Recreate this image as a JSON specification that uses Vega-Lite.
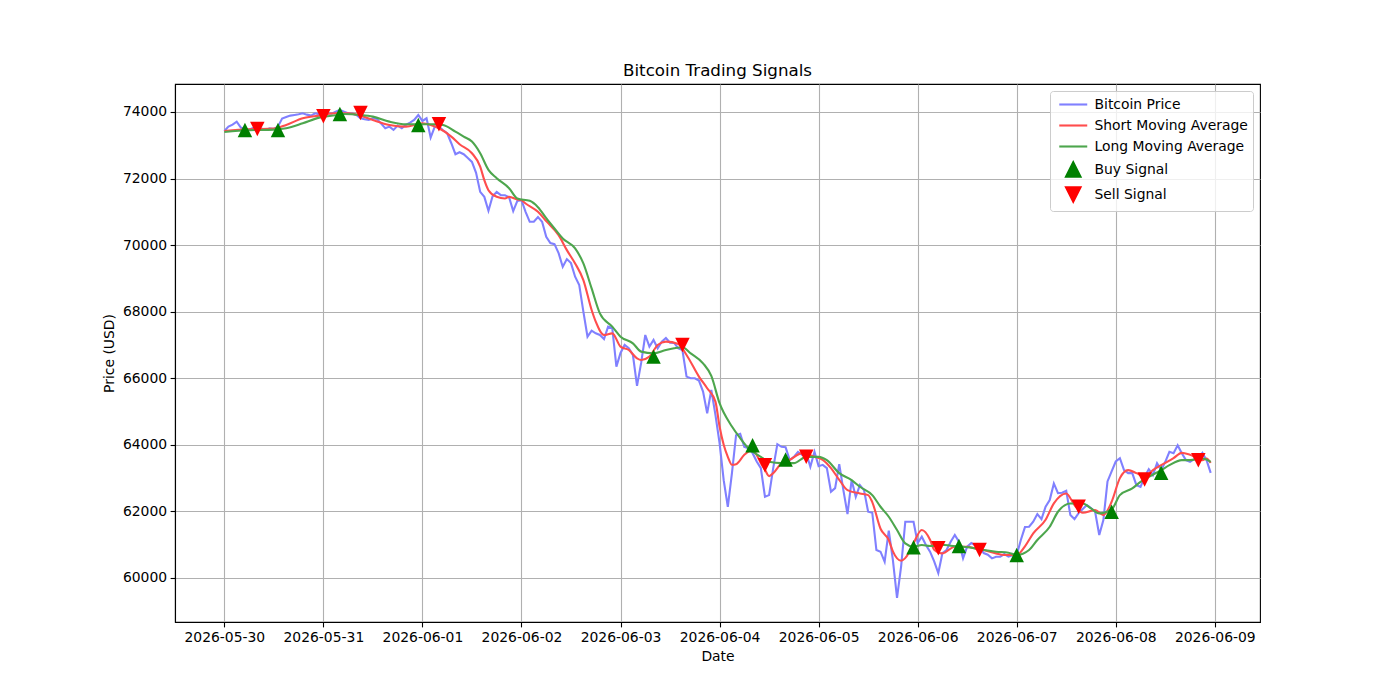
{
  "$schema": "https://vega.github.io/schema/vega-lite/v6.json",
  "width": 1085,
  "height": 538,
  "autosize": {"type": "none"},
  "padding": {"left": 175, "top": 84, "right": 140, "bottom": 78},
  "background": "white",
  "title": {"text": "Bitcoin Trading Signals", "fontSize": 16.7, "fontWeight": "normal", "font": "DejaVu Sans", "color": "black", "offset": 4},
  "config": {
    "font": "DejaVu Sans",
    "view": {"stroke": "black", "strokeWidth": 1.1},
    "axis": {
      "labelFont": "DejaVu Sans", "titleFont": "DejaVu Sans",
      "labelFontSize": 13.9, "titleFontSize": 13.9, "titleFontWeight": "normal",
      "labelColor": "black", "titleColor": "black",
      "domainColor": "black", "domainWidth": 1.1,
      "tickColor": "black", "tickWidth": 1.1, "tickSize": 4.9,
      "labelPadding": 3.5, "grid": true, "gridColor": "#b0b0b0", "gridWidth": 1.1
    },
    "legend": {
      "orient": "top-right", "offset": 7,
      "labelFont": "DejaVu Sans", "labelFontSize": 13.9, "labelColor": "black",
      "symbolSize": 210, "symbolOffset": 9.75, "symbolStrokeWidth": 2.1, "symbolOpacity": 1,
      "padding": 5, "rowPadding": 2, "labelOffset": 12.75,
      "strokeColor": "#cccccc", "fillColor": "rgba(255,255,255,0.8)", "cornerRadius": 3
    }
  },
  "datasets": {
    "price": [
      {"t":"2026-05-30T00:00","p":73430},{"t":"2026-05-30T01:00","p":73560},{"t":"2026-05-30T02:00","p":73620},{"t":"2026-05-30T03:00","p":73710},{"t":"2026-05-30T04:00","p":73530},{"t":"2026-05-30T05:00","p":73490},{"t":"2026-05-30T06:00","p":73470},{"t":"2026-05-30T07:00","p":73520},{"t":"2026-05-30T08:00","p":73480},{"t":"2026-05-30T09:00","p":73500},{"t":"2026-05-30T10:00","p":73460},{"t":"2026-05-30T11:00","p":73510},{"t":"2026-05-30T12:00","p":73490},{"t":"2026-05-30T13:00","p":73560},{"t":"2026-05-30T14:00","p":73800},{"t":"2026-05-30T15:00","p":73850},{"t":"2026-05-30T16:00","p":73890},{"t":"2026-05-30T17:00","p":73910},{"t":"2026-05-30T18:00","p":73930},{"t":"2026-05-30T19:00","p":73960},{"t":"2026-05-30T20:00","p":73920},{"t":"2026-05-30T21:00","p":73890},{"t":"2026-05-30T22:00","p":73960},{"t":"2026-05-30T23:00","p":73930},
      {"t":"2026-05-31T00:00","p":73900},{"t":"2026-05-31T01:00","p":73960},{"t":"2026-05-31T02:00","p":73950},{"t":"2026-05-31T03:00","p":74010},{"t":"2026-05-31T04:00","p":74060},{"t":"2026-05-31T05:00","p":74010},{"t":"2026-05-31T06:00","p":73960},{"t":"2026-05-31T07:00","p":73950},{"t":"2026-05-31T08:00","p":73910},{"t":"2026-05-31T09:00","p":73810},{"t":"2026-05-31T10:00","p":73780},{"t":"2026-05-31T11:00","p":73760},{"t":"2026-05-31T12:00","p":73810},{"t":"2026-05-31T13:00","p":73790},{"t":"2026-05-31T14:00","p":73650},{"t":"2026-05-31T15:00","p":73510},{"t":"2026-05-31T16:00","p":73560},{"t":"2026-05-31T17:00","p":73460},{"t":"2026-05-31T18:00","p":73590},{"t":"2026-05-31T19:00","p":73510},{"t":"2026-05-31T20:00","p":73610},{"t":"2026-05-31T21:00","p":73680},{"t":"2026-05-31T22:00","p":73760},{"t":"2026-05-31T23:00","p":73910},
      {"t":"2026-06-01T00:00","p":73730},{"t":"2026-06-01T01:00","p":73810},{"t":"2026-06-01T02:00","p":73230},{"t":"2026-06-01T03:00","p":73560},{"t":"2026-06-01T04:00","p":73560},{"t":"2026-06-01T05:00","p":73450},{"t":"2026-06-01T06:00","p":73360},{"t":"2026-06-01T07:00","p":73060},{"t":"2026-06-01T08:00","p":72730},{"t":"2026-06-01T09:00","p":72790},{"t":"2026-06-01T10:00","p":72730},{"t":"2026-06-01T11:00","p":72620},{"t":"2026-06-01T12:00","p":72500},{"t":"2026-06-01T13:00","p":72170},{"t":"2026-06-01T14:00","p":71600},{"t":"2026-06-01T15:00","p":71450},{"t":"2026-06-01T16:00","p":71030},{"t":"2026-06-01T17:00","p":71470},{"t":"2026-06-01T18:00","p":71600},{"t":"2026-06-01T19:00","p":71500},{"t":"2026-06-01T20:00","p":71500},{"t":"2026-06-01T21:00","p":71440},{"t":"2026-06-01T22:00","p":71020},{"t":"2026-06-01T23:00","p":71330},
      {"t":"2026-06-02T00:00","p":71350},{"t":"2026-06-02T01:00","p":71000},{"t":"2026-06-02T02:00","p":70700},{"t":"2026-06-02T03:00","p":70700},{"t":"2026-06-02T04:00","p":70840},{"t":"2026-06-02T05:00","p":70700},{"t":"2026-06-02T06:00","p":70250},{"t":"2026-06-02T07:00","p":70060},{"t":"2026-06-02T08:00","p":70030},{"t":"2026-06-02T09:00","p":69760},{"t":"2026-06-02T10:00","p":69350},{"t":"2026-06-02T11:00","p":69580},{"t":"2026-06-02T12:00","p":69460},{"t":"2026-06-02T13:00","p":69050},{"t":"2026-06-02T14:00","p":68800},{"t":"2026-06-02T15:00","p":68000},{"t":"2026-06-02T16:00","p":67250},{"t":"2026-06-02T17:00","p":67430},{"t":"2026-06-02T18:00","p":67350},{"t":"2026-06-02T19:00","p":67300},{"t":"2026-06-02T20:00","p":67180},{"t":"2026-06-02T21:00","p":67550},{"t":"2026-06-02T22:00","p":67510},{"t":"2026-06-02T23:00","p":66350},
      {"t":"2026-06-03T00:00","p":66760},{"t":"2026-06-03T01:00","p":67000},{"t":"2026-06-03T02:00","p":66900},{"t":"2026-06-03T03:00","p":66700},{"t":"2026-06-03T04:00","p":65770},{"t":"2026-06-03T05:00","p":66460},{"t":"2026-06-03T06:00","p":67300},{"t":"2026-06-03T07:00","p":66950},{"t":"2026-06-03T08:00","p":67150},{"t":"2026-06-03T09:00","p":66900},{"t":"2026-06-03T10:00","p":67100},{"t":"2026-06-03T11:00","p":67210},{"t":"2026-06-03T12:00","p":67070},{"t":"2026-06-03T13:00","p":67060},{"t":"2026-06-03T14:00","p":66900},{"t":"2026-06-03T15:00","p":66850},{"t":"2026-06-03T16:00","p":66050},{"t":"2026-06-03T17:00","p":66000},{"t":"2026-06-03T18:00","p":66000},{"t":"2026-06-03T19:00","p":65930},{"t":"2026-06-03T20:00","p":65600},{"t":"2026-06-03T21:00","p":64950},{"t":"2026-06-03T22:00","p":65650},{"t":"2026-06-03T23:00","p":64900},
      {"t":"2026-06-04T00:00","p":64050},{"t":"2026-06-04T01:00","p":62940},{"t":"2026-06-04T02:00","p":62140},{"t":"2026-06-04T03:00","p":63150},{"t":"2026-06-04T04:00","p":64290},{"t":"2026-06-04T05:00","p":64330},{"t":"2026-06-04T06:00","p":63940},{"t":"2026-06-04T07:00","p":63900},{"t":"2026-06-04T08:00","p":63750},{"t":"2026-06-04T09:00","p":63500},{"t":"2026-06-04T10:00","p":63300},{"t":"2026-06-04T11:00","p":62440},{"t":"2026-06-04T12:00","p":62490},{"t":"2026-06-04T13:00","p":63300},{"t":"2026-06-04T14:00","p":64020},{"t":"2026-06-04T15:00","p":63940},{"t":"2026-06-04T16:00","p":63930},{"t":"2026-06-04T17:00","p":63540},{"t":"2026-06-04T18:00","p":63640},{"t":"2026-06-04T19:00","p":63790},{"t":"2026-06-04T20:00","p":63700},{"t":"2026-06-04T21:00","p":63750},{"t":"2026-06-04T22:00","p":63340},{"t":"2026-06-04T23:00","p":63790},
      {"t":"2026-06-05T00:00","p":63360},{"t":"2026-06-05T01:00","p":63400},{"t":"2026-06-05T02:00","p":63300},{"t":"2026-06-05T03:00","p":62590},{"t":"2026-06-05T04:00","p":62700},{"t":"2026-06-05T05:00","p":63420},{"t":"2026-06-05T06:00","p":62640},{"t":"2026-06-05T07:00","p":61920},{"t":"2026-06-05T08:00","p":62940},{"t":"2026-06-05T09:00","p":62440},{"t":"2026-06-05T10:00","p":62790},{"t":"2026-06-05T11:00","p":62640},{"t":"2026-06-05T12:00","p":61990},{"t":"2026-06-05T13:00","p":61960},{"t":"2026-06-05T14:00","p":60840},{"t":"2026-06-05T15:00","p":60790},{"t":"2026-06-05T16:00","p":60490},{"t":"2026-06-05T17:00","p":61420},{"t":"2026-06-05T18:00","p":60540},{"t":"2026-06-05T19:00","p":59400},{"t":"2026-06-05T20:00","p":60360},{"t":"2026-06-05T21:00","p":61690},{"t":"2026-06-05T22:00","p":61690},{"t":"2026-06-05T23:00","p":61690},
      {"t":"2026-06-06T00:00","p":61050},{"t":"2026-06-06T01:00","p":61240},{"t":"2026-06-06T02:00","p":60990},{"t":"2026-06-06T03:00","p":60790},{"t":"2026-06-06T04:00","p":60500},{"t":"2026-06-06T05:00","p":60150},{"t":"2026-06-06T06:00","p":60750},{"t":"2026-06-06T07:00","p":60840},{"t":"2026-06-06T08:00","p":61090},{"t":"2026-06-06T09:00","p":61290},{"t":"2026-06-06T10:00","p":61090},{"t":"2026-06-06T11:00","p":60590},{"t":"2026-06-06T12:00","p":60940},{"t":"2026-06-06T13:00","p":61050},{"t":"2026-06-06T14:00","p":60980},{"t":"2026-06-06T15:00","p":60940},{"t":"2026-06-06T16:00","p":60750},{"t":"2026-06-06T17:00","p":60700},{"t":"2026-06-06T18:00","p":60590},{"t":"2026-06-06T19:00","p":60640},{"t":"2026-06-06T20:00","p":60640},{"t":"2026-06-06T21:00","p":60720},{"t":"2026-06-06T22:00","p":60640},{"t":"2026-06-06T23:00","p":60680},
      {"t":"2026-06-07T00:00","p":60690},{"t":"2026-06-07T01:00","p":61140},{"t":"2026-06-07T02:00","p":61530},{"t":"2026-06-07T03:00","p":61540},{"t":"2026-06-07T04:00","p":61690},{"t":"2026-06-07T05:00","p":61920},{"t":"2026-06-07T06:00","p":61770},{"t":"2026-06-07T07:00","p":62140},{"t":"2026-06-07T08:00","p":62340},{"t":"2026-06-07T09:00","p":62840},{"t":"2026-06-07T10:00","p":62550},{"t":"2026-06-07T11:00","p":62560},{"t":"2026-06-07T12:00","p":62620},{"t":"2026-06-07T13:00","p":61890},{"t":"2026-06-07T14:00","p":61770},{"t":"2026-06-07T15:00","p":61950},{"t":"2026-06-07T16:00","p":62070},{"t":"2026-06-07T17:00","p":62190},{"t":"2026-06-07T18:00","p":62100},{"t":"2026-06-07T19:00","p":61990},{"t":"2026-06-07T20:00","p":61290},{"t":"2026-06-07T21:00","p":61740},{"t":"2026-06-07T22:00","p":62900},{"t":"2026-06-07T23:00","p":63200},
      {"t":"2026-06-08T00:00","p":63500},{"t":"2026-06-08T01:00","p":63600},{"t":"2026-06-08T02:00","p":63240},{"t":"2026-06-08T03:00","p":63150},{"t":"2026-06-08T04:00","p":63150},{"t":"2026-06-08T05:00","p":62790},{"t":"2026-06-08T06:00","p":62740},{"t":"2026-06-08T07:00","p":63040},{"t":"2026-06-08T08:00","p":63270},{"t":"2026-06-08T09:00","p":63090},{"t":"2026-06-08T10:00","p":63450},{"t":"2026-06-08T11:00","p":63240},{"t":"2026-06-08T12:00","p":63490},{"t":"2026-06-08T13:00","p":63790},{"t":"2026-06-08T14:00","p":63750},{"t":"2026-06-08T15:00","p":63990},{"t":"2026-06-08T16:00","p":63750},{"t":"2026-06-08T17:00","p":63540},{"t":"2026-06-08T18:00","p":63490},{"t":"2026-06-08T19:00","p":63570},{"t":"2026-06-08T20:00","p":63600},{"t":"2026-06-08T21:00","p":63760},{"t":"2026-06-08T22:00","p":63540},{"t":"2026-06-08T23:00","p":63160}
    ],
    "shortMA": [
      {"t":"2026-05-30T00:00","v":73430},{"t":"2026-05-30T06:00","v":73480},{"t":"2026-05-30T12:00","v":73500},{"t":"2026-05-30T15:00","v":73610},{"t":"2026-05-30T19:00","v":73810},{"t":"2026-05-30T23:00","v":73890},
      {"t":"2026-05-31T03:00","v":73960},{"t":"2026-05-31T06:00","v":73960},{"t":"2026-05-31T09:00","v":73890},{"t":"2026-05-31T12:00","v":73760},{"t":"2026-05-31T16:00","v":73610},{"t":"2026-05-31T20:00","v":73560},
      {"t":"2026-06-01T00:00","v":73660},{"t":"2026-06-01T02:00","v":73610},{"t":"2026-06-01T04:00","v":73510},{"t":"2026-06-01T07:00","v":73260},{"t":"2026-06-01T09:00","v":73030},{"t":"2026-06-01T12:00","v":72760},{"t":"2026-06-01T14:00","v":72360},{"t":"2026-06-01T15:00","v":71950},{"t":"2026-06-01T16:00","v":71650},{"t":"2026-06-01T18:00","v":71450},{"t":"2026-06-01T20:00","v":71400},{"t":"2026-06-01T21:00","v":71450},{"t":"2026-06-01T23:00","v":71370},
      {"t":"2026-06-02T00:00","v":71350},{"t":"2026-06-02T01:00","v":71250},{"t":"2026-06-02T04:00","v":71000},{"t":"2026-06-02T06:00","v":70720},{"t":"2026-06-02T09:00","v":70300},{"t":"2026-06-02T11:00","v":69850},{"t":"2026-06-02T13:00","v":69450},{"t":"2026-06-02T15:00","v":68950},{"t":"2026-06-02T17:00","v":68050},{"t":"2026-06-02T18:00","v":67700},{"t":"2026-06-02T20:00","v":67300},{"t":"2026-06-02T22:00","v":67350},
      {"t":"2026-06-03T00:00","v":66950},{"t":"2026-06-03T02:00","v":66850},{"t":"2026-06-03T04:00","v":66600},{"t":"2026-06-03T05:00","v":66550},{"t":"2026-06-03T07:00","v":66650},{"t":"2026-06-03T09:00","v":67000},{"t":"2026-06-03T11:00","v":67100},{"t":"2026-06-03T14:00","v":67030},{"t":"2026-06-03T16:00","v":66700},{"t":"2026-06-03T19:00","v":66050},{"t":"2026-06-03T21:00","v":65700},{"t":"2026-06-03T23:00","v":65300},
      {"t":"2026-06-04T00:00","v":64550},{"t":"2026-06-04T01:00","v":64000},{"t":"2026-06-04T02:00","v":63640},{"t":"2026-06-04T03:00","v":63400},{"t":"2026-06-04T04:00","v":63420},{"t":"2026-06-04T06:00","v":63700},{"t":"2026-06-04T08:00","v":63850},{"t":"2026-06-04T09:00","v":63700},{"t":"2026-06-04T10:00","v":63450},{"t":"2026-06-04T11:00","v":63250},{"t":"2026-06-04T12:00","v":63060},{"t":"2026-06-04T13:00","v":63150},{"t":"2026-06-04T15:00","v":63450},{"t":"2026-06-04T17:00","v":63550},{"t":"2026-06-04T20:00","v":63750},{"t":"2026-06-04T23:00","v":63640},
      {"t":"2026-06-05T01:00","v":63550},{"t":"2026-06-05T03:00","v":63300},{"t":"2026-06-05T05:00","v":62950},{"t":"2026-06-05T07:00","v":62640},{"t":"2026-06-05T10:00","v":62540},{"t":"2026-06-05T12:00","v":62490},{"t":"2026-06-05T13:00","v":62280},{"t":"2026-06-05T15:00","v":61480},{"t":"2026-06-05T17:00","v":61140},{"t":"2026-06-05T18:00","v":60800},{"t":"2026-06-05T20:00","v":60520},{"t":"2026-06-05T22:00","v":60780},{"t":"2026-06-05T23:00","v":61040},
      {"t":"2026-06-06T01:00","v":61440},{"t":"2026-06-06T03:00","v":61150},{"t":"2026-06-06T04:00","v":60850},{"t":"2026-06-06T06:00","v":60740},{"t":"2026-06-06T09:00","v":60940},{"t":"2026-06-06T12:00","v":60940},{"t":"2026-06-06T14:00","v":60890},{"t":"2026-06-06T16:00","v":60840},{"t":"2026-06-06T19:00","v":60740},{"t":"2026-06-06T21:00","v":60690},
      {"t":"2026-06-07T00:00","v":60690},{"t":"2026-06-07T02:00","v":60950},{"t":"2026-06-07T04:00","v":61340},{"t":"2026-06-07T07:00","v":61750},{"t":"2026-06-07T09:00","v":62240},{"t":"2026-06-07T12:00","v":62540},{"t":"2026-06-07T14:00","v":62190},{"t":"2026-06-07T16:00","v":61960},{"t":"2026-06-07T19:00","v":62040},{"t":"2026-06-07T21:00","v":61890},{"t":"2026-06-07T23:00","v":62290},
      {"t":"2026-06-08T01:00","v":63000},{"t":"2026-06-08T03:00","v":63240},{"t":"2026-06-08T05:00","v":63150},{"t":"2026-06-08T07:00","v":63040},{"t":"2026-06-08T09:00","v":63240},{"t":"2026-06-08T11:00","v":63390},{"t":"2026-06-08T14:00","v":63600},{"t":"2026-06-08T16:00","v":63760},{"t":"2026-06-08T18:00","v":63700},{"t":"2026-06-08T21:00","v":63540},{"t":"2026-06-08T22:00","v":63590},{"t":"2026-06-08T23:00","v":63460}
    ],
    "longMA": [
      {"t":"2026-05-30T00:00","v":73400},{"t":"2026-05-30T06:00","v":73450},{"t":"2026-05-30T12:00","v":73470},{"t":"2026-05-30T15:00","v":73510},{"t":"2026-05-30T19:00","v":73660},{"t":"2026-05-30T23:00","v":73830},
      {"t":"2026-05-31T03:00","v":73900},{"t":"2026-05-31T05:00","v":73940},{"t":"2026-05-31T09:00","v":73910},{"t":"2026-05-31T12:00","v":73860},{"t":"2026-05-31T16:00","v":73710},{"t":"2026-05-31T20:00","v":73630},
      {"t":"2026-06-01T00:00","v":73630},{"t":"2026-06-01T03:00","v":73630},{"t":"2026-06-01T05:00","v":73610},{"t":"2026-06-01T08:00","v":73410},{"t":"2026-06-01T10:00","v":73260},{"t":"2026-06-01T12:00","v":73110},{"t":"2026-06-01T14:00","v":72760},{"t":"2026-06-01T16:00","v":72260},{"t":"2026-06-01T18:00","v":72010},{"t":"2026-06-01T21:00","v":71710},{"t":"2026-06-01T23:00","v":71400},
      {"t":"2026-06-02T02:00","v":71330},{"t":"2026-06-02T04:00","v":71140},{"t":"2026-06-02T06:00","v":70810},{"t":"2026-06-02T08:00","v":70500},{"t":"2026-06-02T10:00","v":70200},{"t":"2026-06-02T13:00","v":69900},{"t":"2026-06-02T15:00","v":69450},{"t":"2026-06-02T17:00","v":68700},{"t":"2026-06-02T19:00","v":67950},{"t":"2026-06-02T22:00","v":67550},
      {"t":"2026-06-03T00:00","v":67250},{"t":"2026-06-03T03:00","v":67050},{"t":"2026-06-03T05:00","v":66800},{"t":"2026-06-03T08:00","v":66750},{"t":"2026-06-03T11:00","v":66850},{"t":"2026-06-03T13:00","v":66900},{"t":"2026-06-03T15:00","v":66930},{"t":"2026-06-03T17:00","v":66750},{"t":"2026-06-03T20:00","v":66450},{"t":"2026-06-03T22:00","v":66070},
      {"t":"2026-06-04T00:00","v":65250},{"t":"2026-06-04T03:00","v":64550},{"t":"2026-06-04T05:00","v":64200},{"t":"2026-06-04T07:00","v":63900},{"t":"2026-06-04T10:00","v":63640},{"t":"2026-06-04T12:00","v":63490},{"t":"2026-06-04T15:00","v":63450},{"t":"2026-06-04T18:00","v":63450},{"t":"2026-06-04T21:00","v":63640},
      {"t":"2026-06-05T00:00","v":63640},{"t":"2026-06-05T02:00","v":63540},{"t":"2026-06-05T05:00","v":63150},{"t":"2026-06-05T08:00","v":62940},{"t":"2026-06-05T10:00","v":62740},{"t":"2026-06-05T13:00","v":62490},{"t":"2026-06-05T15:00","v":62140},{"t":"2026-06-05T17:00","v":61840},{"t":"2026-06-05T19:00","v":61440},{"t":"2026-06-05T21:00","v":61040},{"t":"2026-06-05T23:00","v":60940},
      {"t":"2026-06-06T01:00","v":60990},{"t":"2026-06-06T03:00","v":60960},{"t":"2026-06-06T06:00","v":61000},{"t":"2026-06-06T08:00","v":60970},{"t":"2026-06-06T11:00","v":60940},{"t":"2026-06-06T14:00","v":60890},{"t":"2026-06-06T16:00","v":60840},{"t":"2026-06-06T19:00","v":60790},{"t":"2026-06-06T22:00","v":60760},
      {"t":"2026-06-07T00:00","v":60690},{"t":"2026-06-07T03:00","v":60840},{"t":"2026-06-07T05:00","v":61140},{"t":"2026-06-07T08:00","v":61540},{"t":"2026-06-07T10:00","v":61990},{"t":"2026-06-07T13:00","v":62240},{"t":"2026-06-07T16:00","v":62240},{"t":"2026-06-07T18:00","v":62090},{"t":"2026-06-07T20:00","v":61940},{"t":"2026-06-07T23:00","v":62060},
      {"t":"2026-06-08T01:00","v":62490},{"t":"2026-06-08T04:00","v":62690},{"t":"2026-06-08T06:00","v":62890},{"t":"2026-06-08T08:00","v":63040},{"t":"2026-06-08T11:00","v":63240},{"t":"2026-06-08T13:00","v":63390},{"t":"2026-06-08T16:00","v":63540},{"t":"2026-06-08T18:00","v":63540},{"t":"2026-06-08T21:00","v":63590},{"t":"2026-06-08T23:00","v":63490}
    ],
    "signals": [
      {"t":"2026-05-30T05:00","v":73460,"s":"Buy Signal"},{"t":"2026-05-30T13:00","v":73460,"s":"Buy Signal"},{"t":"2026-05-31T04:00","v":73940,"s":"Buy Signal"},{"t":"2026-05-31T23:00","v":73610,"s":"Buy Signal"},{"t":"2026-06-03T08:00","v":66650,"s":"Buy Signal"},{"t":"2026-06-04T08:00","v":63990,"s":"Buy Signal"},{"t":"2026-06-04T16:00","v":63560,"s":"Buy Signal"},{"t":"2026-06-05T23:00","v":60920,"s":"Buy Signal"},{"t":"2026-06-06T10:00","v":60960,"s":"Buy Signal"},{"t":"2026-06-07T00:00","v":60690,"s":"Buy Signal"},{"t":"2026-06-07T23:00","v":61990,"s":"Buy Signal"},{"t":"2026-06-08T11:00","v":63160,"s":"Buy Signal"},
      {"t":"2026-05-30T08:00","v":73490,"s":"Sell Signal"},{"t":"2026-05-31T00:00","v":73870,"s":"Sell Signal"},{"t":"2026-05-31T09:00","v":73970,"s":"Sell Signal"},{"t":"2026-06-01T04:00","v":73630,"s":"Sell Signal"},{"t":"2026-06-03T15:00","v":67000,"s":"Sell Signal"},{"t":"2026-06-04T11:00","v":63390,"s":"Sell Signal"},{"t":"2026-06-04T21:00","v":63640,"s":"Sell Signal"},{"t":"2026-06-06T05:00","v":60890,"s":"Sell Signal"},{"t":"2026-06-06T15:00","v":60840,"s":"Sell Signal"},{"t":"2026-06-07T15:00","v":62140,"s":"Sell Signal"},{"t":"2026-06-08T07:00","v":62960,"s":"Sell Signal"},{"t":"2026-06-08T20:00","v":63540,"s":"Sell Signal"}
    ]
  },
  "layer": [
    {
      "data": {"name": "price"},
      "mark": {"type": "line", "strokeWidth": 2.1},
      "encoding": {
        "x": {
          "field": "t", "type": "temporal", "title": "Date",
          "scale": {"domain": [{"year": 2026, "month": 5, "date": 29, "hours": 12, "minutes": 3}, {"year": 2026, "month": 6, "date": 9, "hours": 10, "minutes": 57}]},
          "axis": {"format": "%Y-%m-%d", "tickCount": {"interval": "day", "step": 1}, "labelOverlap": false, "labelFlush": false, "titlePadding": 5}
        },
        "y": {
          "field": "p", "type": "quantitative", "title": "Price (USD)",
          "scale": {"domain": [58678, 74840], "nice": false, "zero": false},
          "axis": {"values": [60000, 62000, 64000, 66000, 68000, 70000, 72000, 74000], "format": "d", "titlePadding": 6}
        },
        "color": {
          "datum": "Bitcoin Price", "type": "nominal", "title": null,
          "scale": {
            "domain": ["Bitcoin Price", "Short Moving Average", "Long Moving Average", "Buy Signal", "Sell Signal"],
            "range": ["#8080ff", "#ff4d4d", "#4da64d", "#008000", "#ff0000"]
          }
        }
      }
    },
    {
      "data": {"name": "shortMA"},
      "mark": {"type": "line", "strokeWidth": 2.1, "interpolate": "monotone"},
      "encoding": {
        "x": {"field": "t", "type": "temporal"},
        "y": {"field": "v", "type": "quantitative"},
        "color": {"datum": "Short Moving Average", "type": "nominal", "title": null}
      }
    },
    {
      "data": {"name": "longMA"},
      "mark": {"type": "line", "strokeWidth": 2.1, "interpolate": "monotone"},
      "encoding": {
        "x": {"field": "t", "type": "temporal"},
        "y": {"field": "v", "type": "quantitative"},
        "color": {"datum": "Long Moving Average", "type": "nominal", "title": null}
      }
    },
    {
      "data": {"name": "signals"},
      "mark": {"type": "point", "filled": true, "opacity": 1, "strokeWidth": 0, "size": 210},
      "encoding": {
        "x": {"field": "t", "type": "temporal"},
        "y": {"field": "v", "type": "quantitative"},
        "color": {"field": "s", "type": "nominal", "title": null},
        "shape": {
          "field": "s", "type": "nominal", "title": null,
          "scale": {
            "domain": ["Bitcoin Price", "Short Moving Average", "Long Moving Average", "Buy Signal", "Sell Signal"],
            "range": ["M-1.93,0H1.93M0,-0.6M0,0.6", "M-1.93,0H1.93M0,-0.6M0,0.6", "M-1.93,0H1.93M0,-0.6M0,0.6", "M0,-1L-1,1L1,1Z", "M-1,-1L1,-1L0,1Z"]
          }
        }
      }
    }
  ]
}
